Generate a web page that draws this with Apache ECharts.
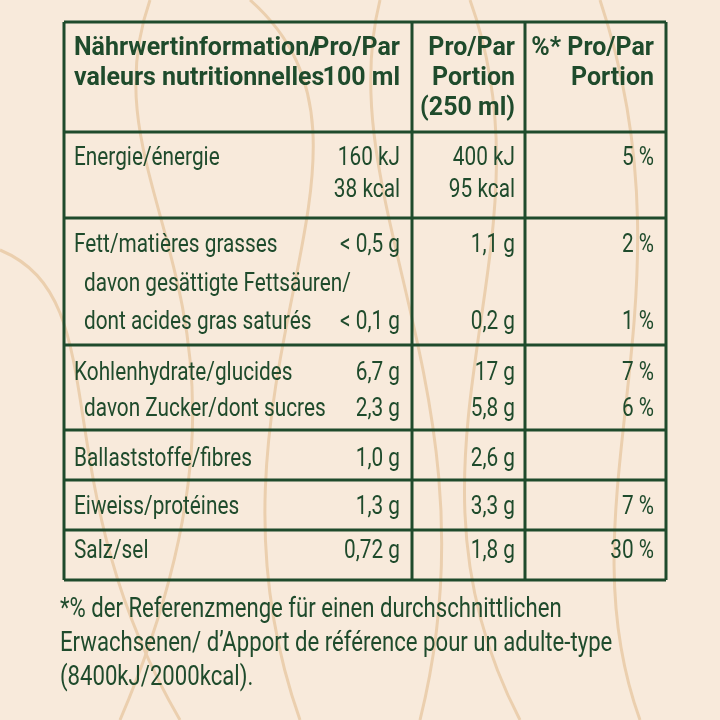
<!DOCTYPE html>
<html><head><meta charset="utf-8">
<script src="https://cdn.jsdelivr.net/npm/echarts@6/dist/echarts.min.js"></script>
<style>html,body{margin:0;padding:0;background:#f8eadb}#main{width:720px;height:720px}</style>
</head><body><div id="main"></div>
<script>
// Tabellen-Daten
const headerLabel = ['Nährwertinformation/', 'valeurs nutritionnelles']
const headerCol1 = ['Pro/Par', '100 ml']
const headerCol2 = ['Pro/Par', 'Portion', '(250 ml)']
const headerCol3 = ['%* Pro/Par', 'Portion']
// [label, 100ml, portion, %, y, indent]
const rowLines = [
  ['Energie/énergie', '160 kJ', '400 kJ', '5 %', 158, 0],
  ['', '38 kcal', '95 kcal', '', 190, 0],
  ['Fett/matières grasses', '< 0,5 g', '1,1 g', '2 %', 245, 0],
  ['davon gesättigte Fettsäuren/', '', '', '', 284, 10],
  ['dont acides gras saturés', '< 0,1 g', '0,2 g', '1 %', 322, 10],
  ['Kohlenhydrate/glucides', '6,7 g', '17 g', '7 %', 373, 0],
  ['davon Zucker/dont sucres', '2,3 g', '5,8 g', '6 %', 409, 10],
  ['Ballaststoffe/fibres', '1,0 g', '2,6 g', '', 459, 0],
  ['Eiweiss/protéines', '1,3 g', '3,3 g', '7 %', 507, 0],
  ['Salz/sel', '0,72 g', '1,8 g', '30 %', 551, 0]
]
const footnote = ['*% der Referenzmenge für einen durchschnittlichen',
  'Erwachsenen/ d’Apport de référence pour un adulte-type',
  '(8400kJ/2000kcal).']
const hLines = [22, 132, 218, 345, 430, 480, 530, 580]
const vLines = [64, 412, 525, 666]

const green = '#1f4b2c'
const font = '"Liberation Sans Narrow", Roboto, "Liberation Sans", sans-serif'
const g = []

// Holzmaserung (Deko)
const grain = [
  [[150, 0], [80, 200], [300, 300], [120, 720]],
  [[250, 0], [420, 150], [180, 380], [300, 720]],
  [[470, 0], [560, 250], [380, 450], [520, 720]],
  [[600, 0], [700, 300], [560, 500], [640, 720]],
  [[0, 250], [120, 300], [40, 480], [180, 720]],
  [[380, 0], [330, 200], [500, 400], [420, 720]]
]
grain.forEach(p => g.push({ type: 'bezierCurve', z: 0,
  shape: { x1: p[0][0], y1: p[0][1], cpx1: p[1][0], cpy1: p[1][1], cpx2: p[2][0], cpy2: p[2][1], x2: p[3][0], y2: p[3][1] },
  style: { stroke: '#ebcfae', lineWidth: 3, fill: null } }))

hLines.forEach(y => g.push({ type: 'line', z: 2, shape: { x1: vLines[0], y1: y, x2: vLines[3], y2: y }, style: { stroke: green, lineWidth: 3 } }))
vLines.forEach(x => g.push({ type: 'line', z: 2, shape: { x1: x, y1: hLines[0], x2: x, y2: hLines[hLines.length - 1] }, style: { stroke: green, lineWidth: 3 } }))

function txt(s, x, y, align, bold, size, sx) {
  g.push({ type: 'text', z: 3, x: x, y: y, scaleX: sx, style: { text: s, fill: green, align: align, verticalAlign: 'middle',
    font: (bold ? 'bold ' : '') + size + 'px ' + font } })
}
headerLabel.forEach((s, i) => txt(s, 74, 48 + i * 30, 'left', true, 26, 0.96))
headerCol1.forEach((s, i) => txt(s, 400, 48 + i * 30, 'right', true, 26, 0.96))
headerCol2.forEach((s, i) => txt(s, 515, 48 + i * 30, 'right', true, 26, 0.96))
headerCol3.forEach((s, i) => txt(s, 654, 48 + i * 30, 'right', true, 26, 0.96))
rowLines.forEach(r => {
  txt(r[0], 74 + r[5], r[4], 'left', false, 26, 0.8)
  txt(r[1], 400, r[4], 'right', false, 26, 0.8)
  txt(r[2], 515, r[4], 'right', false, 26, 0.8)
  txt(r[3], 654, r[4], 'right', false, 26, 0.8)
})
footnote.forEach((s, i) => txt(s, 60, 610 + i * 34, 'left', false, 27, 0.82))

const chart = echarts.init(document.getElementById('main'))
chart.setOption({ backgroundColor: '#f8eadb', graphic: g })
</script></body></html>
